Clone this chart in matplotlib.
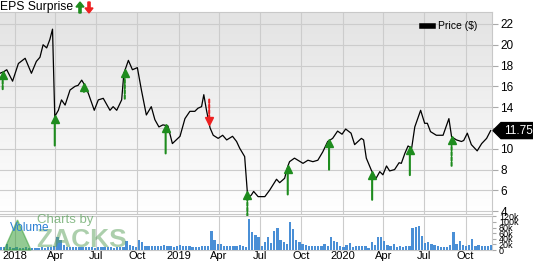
import matplotlib
matplotlib.use('Agg')
import matplotlib.pyplot as plt
import matplotlib.dates as mdates
import matplotlib.transforms as mtransforms
from matplotlib.lines import Line2D
from matplotlib.patches import Polygon
import numpy as np
import pandas as pd

plt.rcParams['font.family'] = ['Liberation Sans', 'DejaVu Sans']

# precio semanal
fechas_precio = ['2017-11-29', '2017-12-07', '2017-12-14', '2017-12-27', '2018-01-09', '2018-01-24',
                 '2018-02-07', '2018-02-18', '2018-02-26', '2018-03-05', '2018-03-13', '2018-03-20',
                 '2018-03-26', '2018-03-31', '2018-04-08', '2018-04-15', '2018-04-23', '2018-05-04',
                 '2018-05-15', '2018-05-22', '2018-05-30', '2018-06-06', '2018-06-14', '2018-06-27',
                 '2018-07-06', '2018-07-17', '2018-08-01', '2018-08-08', '2018-08-16', '2018-08-27',
                 '2018-09-01', '2018-09-11', '2018-09-20', '2018-10-01', '2018-10-10', '2018-10-21',
                 '2018-11-01', '2018-11-09', '2018-11-18', '2018-11-27', '2018-12-08', '2018-12-18',
                 '2019-01-04', '2019-01-15', '2019-01-26', '2019-02-06', '2019-02-13', '2019-02-21',
                 '2019-02-26', '2019-03-04', '2019-03-12', '2019-03-19', '2019-03-30', '2019-04-09',
                 '2019-04-18', '2019-05-01', '2019-05-10', '2019-05-17', '2019-05-28', '2019-06-04',
                 '2019-06-12', '2019-06-17', '2019-06-27', '2019-07-12', '2019-07-23', '2019-08-07',
                 '2019-08-14', '2019-08-25', '2019-09-01', '2019-09-05', '2019-09-16', '2019-10-05',
                 '2019-10-16', '2019-10-27', '2019-11-07', '2019-11-18', '2019-11-29', '2019-12-10',
                 '2019-12-21', '2019-12-31', '2020-01-08', '2020-01-20', '2020-01-28', '2020-02-12',
                 '2020-02-17', '2020-02-23', '2020-03-05', '2020-03-15', '2020-03-24', '2020-03-31',
                 '2020-04-08', '2020-04-15', '2020-04-26', '2020-05-06', '2020-05-11', '2020-05-19',
                 '2020-05-26', '2020-06-03', '2020-06-10', '2020-06-23', '2020-07-02', '2020-07-08',
                 '2020-07-15', '2020-07-28', '2020-08-12', '2020-08-25', '2020-08-31', '2020-09-11',
                 '2020-09-22', '2020-09-27', '2020-10-05', '2020-10-14', '2020-10-27', '2020-11-06',
                 '2020-11-17', '2020-11-26']
precio = [17.26, 17.4, 17.6, 16.5, 18.2, 18.7,
          17.26, 18.4, 18.8, 20.0, 19.7, 20.5,
          21.5, 13.1, 13.7, 14.7, 14.2, 15.65,
          16.0, 16.1, 16.6, 16.1, 15.3, 13.7,
          14.7, 14.85, 13.7, 14.05, 13.7, 14.7,
          17.26, 18.5, 17.6, 17.8, 15.65, 13.25,
          14.05, 12.8, 12.1, 12.3, 12.2, 10.5,
          11.2, 12.9, 13.6, 13.6, 13.9, 14.05,
          15.2, 13.7, 12.0, 11.3, 11.0, 11.3,
          10.85, 11.2, 10.7, 10.05, 9.25, 5.24,
          5.56, 5.9, 5.4, 5.4, 6.04, 7.07,
          6.74, 7.16, 8.3, 8.76, 9.1, 8.6,
          8.9, 8.76, 8.9, 9.7, 10.7, 11.0,
          11.7, 11.4, 11.9, 11.5, 10.4, 11.0,
          10.85, 9.1, 7.96, 7.1, 7.8, 7.5,
          8.35, 7.87, 8.0, 8.66, 8.6, 9.57,
          10.27, 10.05, 12.1, 13.7, 12.45, 12.45,
          11.65, 11.3, 11.3, 12.9, 11.15, 10.85,
          10.7, 10.8, 11.5, 10.4, 9.8, 10.5,
          11.0, 11.75]

# volumen semanal en miles
volumen_k = [9, 12, 22, 10, 8, 9, 7, 8, 9, 8, 7, 8, 8, 9, 8, 10, 12, 15, 48, 34,
             19, 12, 10, 11, 10, 9, 11, 12, 10, 9, 8, 10, 9, 11, 9, 10, 8, 12, 10, 10,
             31, 19, 15, 12, 34, 27, 15, 14, 14, 15, 15, 13, 17, 15, 16, 12, 15, 19, 14, 13,
             15, 12, 10, 10, 13, 13, 16, 69, 34, 23, 21, 16, 16, 15, 16, 16, 19, 15, 11, 111,
             65, 54, 45, 14, 27, 48, 25, 69, 77, 37,
             27, 23, 99, 73, 34, 27, 23, 18, 15, 13,
             14, 13, 14, 21, 14, 45, 31, 29, 16, 11,
             19, 26, 10, 15, 13, 14, 14, 8, 27, 19,
             47, 48, 31, 17, 13, 23, 9, 14, 11, 14,
             13, 77, 82, 85, 50, 25, 27, 23, 19, 15,
             10, 10, 10, 17, 63, 22, 33, 19, 14, 19,
             40, 15, 17, 15, 14, 13, 17]
inicio_volumen = '2017-12-01'

# sorpresas EPS
fechas_eps = ['2017-12-05', '2018-03-31', '2018-06-04', '2018-09-03', '2018-12-03', '2019-03-10',
              '2019-06-03', '2019-09-01', '2019-12-02', '2020-03-07', '2020-05-30', '2020-08-31']
direccion_eps = [1, 1, 1, 1, 1, -1, 1, 1, 1, 1, 1, 1]
punteada_eps = [True, False, False, True, False, True, True, False, False, False, False, True]
largo_eps = [17, 29, 8, 28, 28, 24, 24, 28, 29, 28, 28, 29]  # px

ultimo_precio = '11.75'

VERDE = '#1e8c1e'
ROJO = '#ee2020'

fechas_p = pd.to_datetime(fechas_precio)
fechas_v = pd.date_range(inicio_volumen, periods=len(volumen_k), freq='7D')
fechas_e = pd.to_datetime(fechas_eps)

fig = plt.figure(figsize=(5.33, 2.64), dpi=100)
ax1 = fig.add_axes([0.0, 1 - 214 / 264, 492 / 533, (214 - 12) / 264])
ax2 = fig.add_axes([0.0, 1 - 250 / 264, 492 / 533, (250 - 216) / 264], sharex=ax1)

# fondo degradado
grad = np.linspace(1, 0, 256).reshape(-1, 1)
cmap = matplotlib.colors.LinearSegmentedColormap.from_list('g', ['#ffffff', '#e3e3e3'])
ax1.imshow(grad, extent=[0, 1, 0, 1], transform=ax1.transAxes, aspect='auto', cmap=cmap, zorder=0)

ax1.plot(fechas_p, precio, color='black', lw=0.9, zorder=3)

# flechas EPS
tips = np.interp(mdates.date2num(fechas_e), mdates.date2num(fechas_p), precio)
for f, t, d, p, L in zip(fechas_e, tips, direccion_eps, punteada_eps, largo_eps):
    c = VERDE if d > 0 else ROJO
    ls = (0, (1.6, 0.9)) if p else '-'
    Lpt = L * 0.72
    ax1.annotate('', xy=(f, t), xytext=(0, -d * Lpt), textcoords='offset points',
                 arrowprops=dict(arrowstyle='-', color=c, lw=1.5, linestyle=ls,
                                 shrinkA=0, shrinkB=3.5),
                 annotation_clip=False, zorder=4)
    tr = mtransforms.offset_copy(ax1.transData, fig=fig, x=0, y=-d * 2.0, units='points')
    ax1.plot([f], [t], marker='^' if d > 0 else 'v', ms=5.5, color=c, mec=c,
             transform=tr, clip_on=False, zorder=5)

ax1.set_ylim(3.73, 23.15)
ax1.set_yticks(np.arange(4, 23, 2))
ax1.yaxis.tick_right()
ax1.tick_params(axis='y', length=4, color='#aaaaaa', labelsize=8.5, pad=2)
ax1.tick_params(axis='x', length=0, labelbottom=False)
ax1.grid(True, color='#cccccc', lw=0.8)
for s in ax1.spines.values():
    s.set_color('#c8c8c8')
ax1.spines['left'].set_visible(False)

ax1.legend([Line2D([], [], color='black', lw=4)], ['Price ($)'], loc='upper right',
           bbox_to_anchor=(0.99, 1.0), frameon=False, fontsize=7.5, handlelength=1.1,
           handletextpad=0.5, borderaxespad=0.5)

# ultimo precio: caja negra con punta
ax1.set_xlim(pd.Timestamp('2017-11-29'), pd.Timestamp('2020-11-29'))
yp = ax1.transData.transform((0, float(ultimo_precio)))[1]
fig.patches.append(Polygon([[493, yp], [501, yp + 8], [533, yp + 8], [533, yp - 8], [501, yp - 8]],
                           closed=True, transform=None, color='black', figure=fig))
fig.text(504 / 533, yp / 264, ultimo_precio, color='white', fontsize=8.5, ha='left', va='center')

# volumen
ax2.bar(fechas_v, np.array(volumen_k) * 1000, width=5, color='#4a8fd6', zorder=3)
ax2.set_ylim(0, 121000)
ax2.set_yticks(np.arange(0, 120001, 20000))
ax2.set_yticklabels(['0', '20k', '40k', '60k', '80k', '100k', '120k'])
ax2.yaxis.tick_right()
ax2.tick_params(axis='y', length=3, color='#aaaaaa', labelsize=6.5, pad=2)
ax2.grid(True, axis='x', color='#cccccc', lw=0.8)
for s in ax2.spines.values():
    s.set_color('#c8c8c8')
ax2.spines['left'].set_visible(False)

ax2.xaxis.set_major_locator(mdates.MonthLocator(bymonth=[1, 4, 7, 10]))
ax2.xaxis.set_major_formatter(matplotlib.ticker.FuncFormatter(
    lambda v, pos: mdates.num2date(v).strftime('%Y') if mdates.num2date(v).month == 1
    else mdates.num2date(v).strftime('%b')))
ax2.tick_params(axis='x', length=0, labelsize=8, pad=1)
ax1.set_xlim(pd.Timestamp('2017-11-29'), pd.Timestamp('2020-11-29'))

# titulo y marca de agua
fig.text(0.0, 0.997, 'EPS Surprise', ha='left', va='top', fontsize=8.7)
fig.patches.append(matplotlib.patches.FancyArrow(80, 251, 0, 11, width=2.2, head_width=8, head_length=5,
                                                 length_includes_head=True, color=VERDE,
                                                 transform=None, figure=fig))
fig.patches.append(matplotlib.patches.FancyArrow(89, 262, 0, -11, width=2.2, head_width=8, head_length=5,
                                                 length_includes_head=True, color=ROJO,
                                                 transform=None, figure=fig))
fig.patches.append(Polygon([[4, 14], [31, 14], [17.5, 44]], closed=True, transform=None,
                           color='#3aa03a', alpha=0.55, figure=fig, zorder=6))
fig.text(37 / 533, 1 - 220 / 264, 'Charts by', fontsize=9.5, color='#5aa05a', alpha=0.7,
         va='center', ha='left', zorder=6)
fig.text(36 / 533, 1 - 240 / 264, 'ZACKS', fontsize=19, fontweight='bold', color='#5aa05a',
         alpha=0.5, va='center', ha='left', zorder=6)
fig.text(10 / 533, 1 - 228 / 264, 'Volume', fontsize=8.5, color='#2a7fd4',
         va='center', ha='left', zorder=7)

plt.savefig('out.png', dpi=100)
